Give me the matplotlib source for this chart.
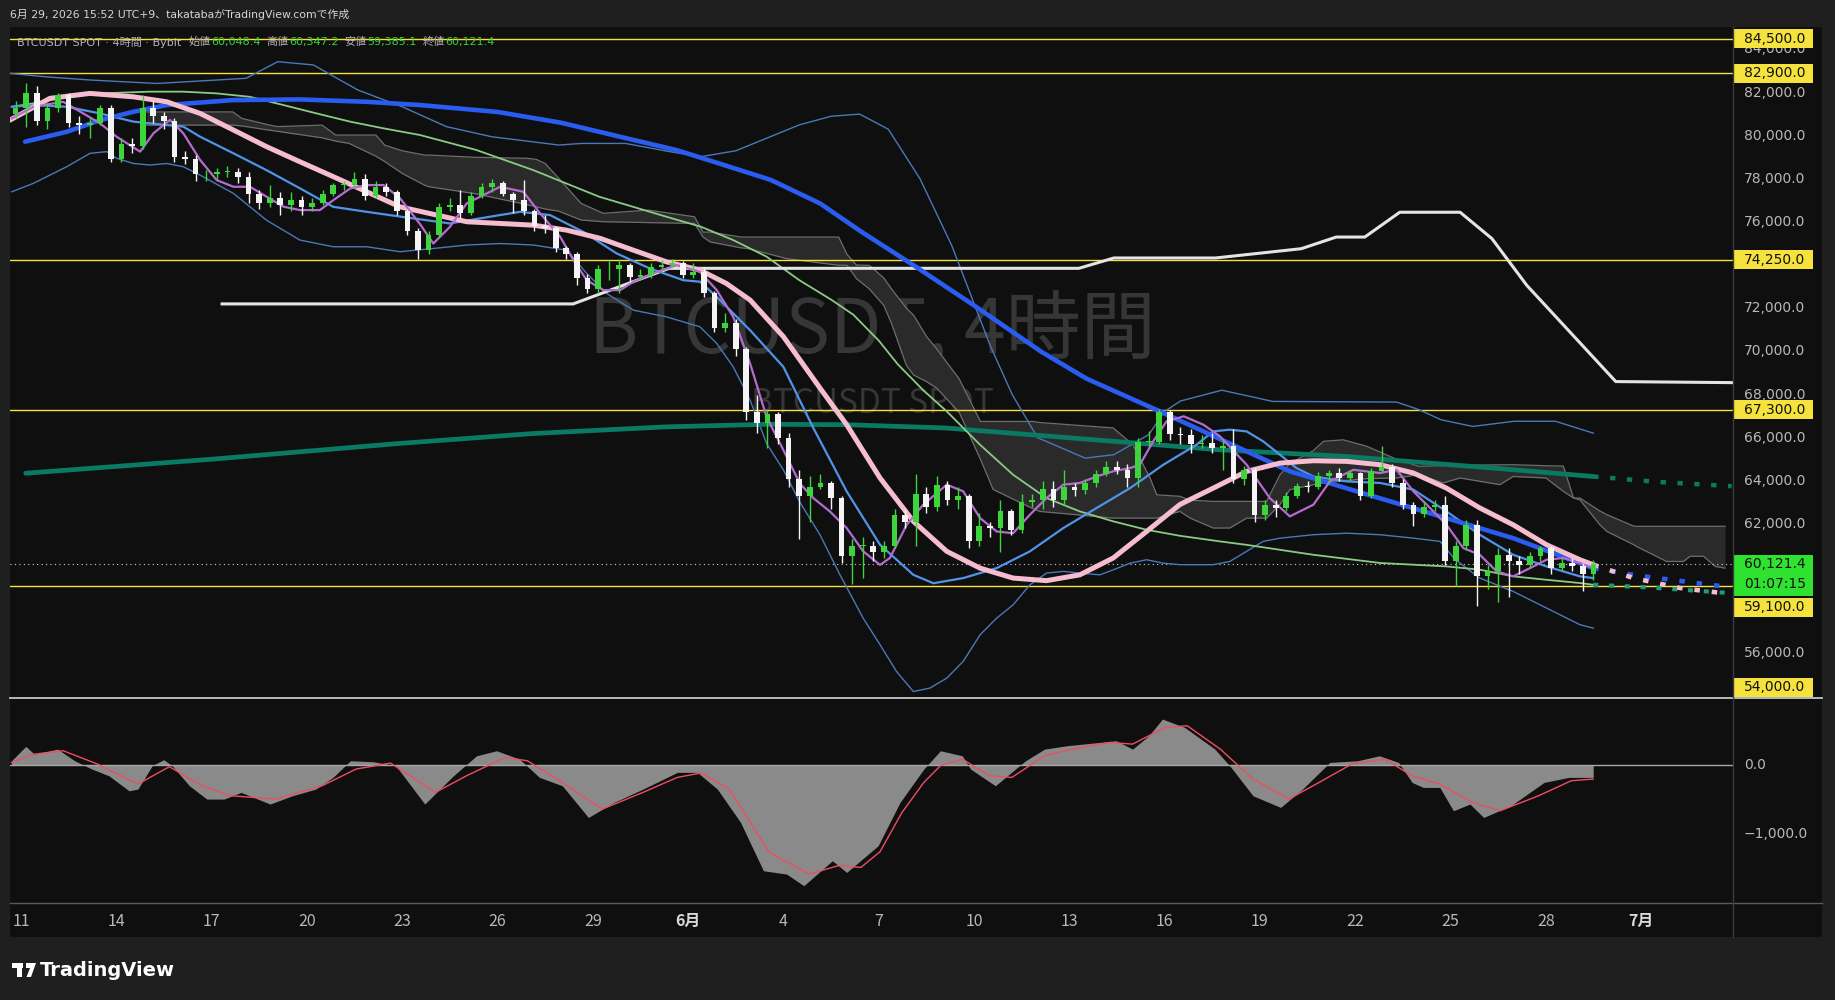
import matplotlib
matplotlib.use("Agg")
import matplotlib.pyplot as plt
import matplotlib.transforms as mtransforms
from matplotlib.patches import Rectangle, Polygon
from matplotlib.lines import Line2D
import numpy as np

plt.rcParams['font.family'] = ['DejaVu Sans', 'Noto Sans CJK JP']
NARROW = ['Liberation Sans Narrow', 'Noto Sans CJK JP']

# x axis is "day of May" (June 1 = 32, July 1 = 62)
# ---------------- candles (8h bars) ----------------
bar_start = 10.83
bar_step = 1 / 3
open_first = 81000
closes = [81300,
          82000, 80700, 81300, 81900, 80600, 80500, 80600, 81300, 78900,
          79600, 79500, 81300, 80900, 80700, 79000, 78900, 78200, 78200,
          78300, 78300, 78100, 77300, 76900, 77100, 76800, 77000, 76700,
          76900, 77300, 77700, 77700, 78000, 77200, 77600, 77400, 76500,
          75600, 74700, 75400, 76700, 76800, 76400, 77200, 77600, 77800,
          77300, 77000, 76500, 75800, 75700, 74800, 74500, 73400, 72900,
          73800, 73800, 74000, 73450, 73550, 73900, 74000, 74100, 73550,
          73700, 72700, 71100, 71300, 70100, 67200, 66700, 67100, 66000,
          64100, 63300, 63700, 63900, 63200, 60500, 61000, 61000, 60700,
          61000, 62400, 62100, 63400, 62800, 63800, 63100, 63300, 61200,
          61900, 61800, 62600, 61700, 63000, 63100, 63600, 63100, 63700,
          63550, 63900, 64300, 64650, 64500, 64150, 65800, 65800, 67200,
          66150, 66100, 65700, 65750, 65500, 65600, 64100, 64500, 62400,
          62900, 62750, 63300, 63750, 63700, 64200, 64350, 64150, 64350,
          63300, 64450, 64650, 63900, 62900, 62450, 62800, 62900, 60300,
          61000, 61950, 59600, 59800, 60550, 60300, 60100, 60500, 60900,
          59950, 60200, 60050, 59700, 60121.4]
highs = [81600,
         82430, 82300, 81500, 82000, 82000, 80900, 80800, 81400, 81400,
         79900, 79900, 81900, 81600, 81100, 80800, 79300, 79100, 78400,
         78500, 78600, 78500, 78300, 77500, 77700, 77400, 77400, 77200,
         77100, 77500, 77800, 77900, 78300, 78200, 77900, 77800, 77500,
         76600, 75700, 75600, 76900, 77100, 77500, 77400, 77800, 78000,
         77900, 77400, 77950, 76600, 76300, 75800, 74900, 74600, 73600,
         74000, 74200, 74300, 74100, 73800, 74100, 74250, 74300, 74200,
         74100, 73900, 72800, 71800, 71500, 70200, 68000, 67300, 67200,
         66200, 64500, 64200, 64300, 64000, 63300, 61300, 61400, 61200,
         61200, 62700, 62700, 64300, 63700, 64200, 64000, 63700, 63400,
         62500, 62100, 63100, 62700, 63400, 63400, 64000, 64000, 64500,
         63900, 64100, 64500, 64900, 64900, 64800, 66000, 66300, 67350,
         67300, 66500, 66400, 66100, 66200, 65900, 66400, 64700, 64600,
         63100, 63100, 63500, 63900, 64000, 64400, 64500, 64600, 64500,
         64400, 64600, 65600, 64800, 64100, 63000, 63000, 63100, 63300,
         61200, 62200, 62200, 60100, 60900, 60900, 60500, 60700, 61000,
         61000, 60400, 60400, 60200, 60347.2]
lows = [80800,
        80400, 80500, 80300, 81100, 80400, 80100, 79900, 80500, 78800,
        78800, 79200, 79400, 80600, 80300, 78800, 78700, 77900, 77900,
        78000, 78100, 77800, 76900, 76600, 76700, 76300, 76500, 76300,
        76500, 76800, 77200, 77500, 77600, 77000, 77100, 77200, 76300,
        75400, 74300, 74500, 75300, 76500, 76200, 76300, 77100, 77400,
        77200, 76400, 76300, 75600, 75500, 74600, 74300, 73100, 72700,
        72700, 73300, 72700, 73200, 73300, 73400, 73800, 73900, 73400,
        73400, 72500, 70900, 70900, 69800, 66800, 66200, 65500, 65700,
        63700, 61300, 62100, 63600, 62700, 60200, 59200, 59500, 60300,
        60400, 60900, 61800, 61000, 62500, 62600, 62900, 62700, 60900,
        61000, 61400, 60700, 61500, 61600, 62800, 62700, 62800, 62900,
        63300, 63400, 63700, 64200, 64300, 63700, 63700, 65600, 65700,
        65900, 65700, 65300, 65500, 65300, 64500, 63900, 63800, 62100,
        62200, 62300, 62600, 63200, 63500, 63600, 63900, 64000, 64000,
        63100, 63200, 64400, 63700, 62700, 61900, 62300, 62600, 60100,
        59100, 60800, 58200, 59000, 58400, 58600, 59700, 60000, 60300,
        59700, 59800, 59800, 58900, 59385.1]

# ---------------- moving averages / bands ----------------
blue_days = [11.13, 12.44, 13.49, 14.54, 15.59, 17.68, 19.78, 21.88, 23.56, 26.0,
             28.0, 30.0, 31.64, 33.0, 34.6, 36.15, 37.5, 39.1, 41.0, 43.13,
             44.55, 46.9, 48.5, 50.94, 54.8, 57.97, 60.49]
blue_vals = [79720, 80180, 80720, 81110, 81420, 81650, 81680, 81570, 81420, 81100,
             80600, 79900, 79330, 78700, 77950, 76860, 75500, 73990, 72130, 69970,
             68730, 67185, 66100, 64440, 62740, 61340, 59950]
blue_ext_days = [60.49, 61.86, 63.38, 64.8]
blue_ext_vals = [59950, 59610, 59330, 59060]

pink_days = [10.65, 11.91, 13.17, 14.54, 15.59, 16.64, 17.69, 18.73, 19.78, 20.83,
             21.88, 22.93, 25.03, 27.13, 28.18, 29.23, 30.28, 31.32, 32.37, 33.2,
             33.95, 35.0, 36.15, 36.99, 38.04, 39.09, 40.14, 41.19, 42.23, 43.28,
             44.33, 45.38, 46.43, 47.48, 48.53, 49.58, 50.63, 51.68, 52.73, 53.78,
             54.83, 55.87, 56.92, 57.97, 59.02, 60.07, 60.49]
pink_vals = [80720, 81730, 81960, 81800, 81570, 81030, 80260, 79490, 78790, 78100,
             77400, 76700, 76010, 75850, 75620, 75240, 74690, 74150, 73770, 73150,
             72380, 70680, 68300, 66600, 64130, 62120, 60730, 59950, 59490, 59370,
             59640, 60420, 61650, 62900, 63660, 64436, 64820, 64930, 64900, 64745,
             64360, 63660, 62740, 61960, 61035, 60340, 60110]
pink_ext_days = [60.49, 61.76, 63.22, 64.75]
pink_ext_vals = [60110, 59490, 59030, 58760]

purple_days = [10.71, 11.39, 12.33, 12.96, 13.49, 14.01, 14.75, 15.17, 15.69, 16.11,
               16.64, 17.16, 17.69, 18.21, 18.73, 19.26, 19.78, 20.41, 20.83, 21.36,
               21.88, 22.41, 22.93, 23.56, 23.98, 24.5, 25.03, 26.08, 26.81, 27.34,
               27.97, 28.39, 28.81, 29.33, 29.86, 30.28, 30.9, 31.64, 32.37, 32.9,
               33.42, 33.95, 34.47, 35.0, 35.52, 35.94, 36.46, 36.99, 37.51, 38.04,
               38.35, 38.88, 39.4, 40.14, 40.66, 41.19, 41.71, 42.23, 42.76, 43.28,
               43.81, 44.33, 44.86, 45.38, 45.91, 46.22, 46.64, 47.06, 47.6, 48.22,
               48.74, 49.58, 50.31, 50.94, 51.68, 52.2, 52.94, 53.78, 54.3, 54.83,
               55.46, 55.87, 56.4, 56.92, 57.45, 57.97, 58.5, 59.02, 59.55, 60.07,
               60.49]
purple_vals = [80800, 81340, 81570, 81030, 80570, 79950, 79260, 80110, 80730, 80110,
               78870, 77940, 77630, 77630, 77170, 76710, 76550, 76550, 77010, 77550,
               77710, 77710, 77100, 75900, 75000, 75770, 76860, 77630, 77400, 76400,
               75320, 74230, 73300, 72840, 72840, 73230, 73610, 74000, 73690, 72840,
               71600, 69440, 66960, 65420, 63870, 63200, 62580, 61810, 60730, 60100,
               60420, 61960, 62890, 63820, 63510, 62270, 61650, 61570, 62430, 63200,
               63820, 63900, 64200, 64440, 64590, 64750, 65830, 66755, 66990, 66600,
               66060, 64745, 63200, 62350, 62890, 63970, 64510, 64360, 64510, 63510,
               62580, 61960, 60880, 60570, 59800, 59570, 59950, 60340, 60420, 60190,
               59950]

mid_days = [10.71, 11.39, 12.44, 13.49, 14.54, 15.59, 16.11, 16.64, 17.69, 18.73,
            19.78, 20.83, 21.88, 22.93, 24.5, 26.08, 26.71, 27.65, 28.7, 29.75,
            30.8, 31.85, 32.37, 32.9, 33.95, 35.0, 35.94, 36.99, 38.04, 39.09,
            39.72, 40.66, 41.71, 42.76, 43.81, 44.86, 45.91, 46.96, 48.0, 48.53,
            49.05, 49.58, 50.1, 50.63, 51.15, 51.68, 52.73, 53.78, 54.83, 55.87,
            56.92, 57.97, 59.02, 60.07, 60.49]
mid_vals = [81340, 81420, 81340, 81030, 80650, 80490, 80420, 79950, 79180, 78400,
            77560, 76700, 76470, 76250, 75930, 76320, 76470, 76320, 75540, 74540,
            73840, 73300, 73230, 72530, 70980, 69280, 66450, 63510, 61035, 59640,
            59250, 59490, 59950, 60730, 61810, 62740, 63660, 64745, 65670, 66290,
            66370, 66290, 65830, 65210, 64590, 64200, 63970, 63900, 63590, 62580,
            61500, 60570, 60030, 59570, 59490]

bbu_days = [10.65, 11.77, 13.18, 15.28, 18.09, 19.08, 20.2, 21.6, 23.0, 24.4,
            25.82, 27.93, 28.63, 30.03, 31.44, 32.39, 33.5, 34.5, 35.5, 36.5,
            37.4, 38.3, 39.3, 40.3, 41.5, 42.2, 43.0, 44.5, 45.4, 46.5,
            47.0, 47.5, 48.8, 50.4, 54.3, 55.0, 55.7, 56.7, 58.0, 59.3, 60.49]
bbu_vals = [82890, 82730, 82580, 82420, 82660, 83430, 83280, 82120, 81340, 80415,
            79950, 79565, 79640, 79640, 79255, 79024, 79300, 79900, 80500, 80900,
            81000, 80300, 78000, 74900, 70300, 68000, 66000, 65050, 65210, 66140,
            67220, 67700, 68200, 67680, 67650, 67300, 66830, 66520, 66760, 66760, 66210]

bbl_days = [10.71, 11.39, 12.44, 13.17, 13.7, 14.01, 14.54, 15.06, 15.59, 16.11,
            16.64, 17.69, 18.73, 19.78, 20.83, 21.88, 22.93, 23.98, 25.03, 26.08,
            27.13, 28.18, 28.81, 29.44, 30.28, 31.32, 32.37, 32.9, 33.42, 33.95,
            34.47, 35.0, 35.52, 36.15, 36.78, 37.51, 38.04, 38.56, 39.09, 39.61,
            40.14, 40.66, 41.19, 41.71, 42.23, 42.76, 43.28, 43.81, 44.33, 44.96,
            45.38, 45.91, 46.43, 46.96, 47.48, 48.53, 49.05, 49.58, 50.1, 50.63,
            51.68, 52.73, 53.78, 54.83, 55.67, 56.1, 56.5, 56.92, 57.97, 59.02,
            60.07, 60.49]
bbl_vals = [77400, 77790, 78560, 79180, 79260, 78950, 78710, 78640, 78710, 78560,
            78170, 77320, 76080, 75160, 74850, 74850, 74620, 74770, 74930, 75000,
            74930, 74690, 73610, 72680, 71910, 71600, 71140, 70370, 69280, 67740,
            65730, 64500, 63000, 61500, 59640, 57630, 56400, 55160, 54230, 54390,
            54850, 55630, 56860, 57630, 58250, 59180, 59720, 59800, 59720, 59640,
            59870, 60180, 60340, 60180, 60110, 60110, 60260, 60730, 61190, 61340,
            61500, 61570, 61500, 61340, 61190, 60420, 59950, 59490, 58870, 58100,
            57330, 57170]

green_days = [10.71, 11.39, 12.44, 13.49, 15.06, 16.11, 17.16, 18.21, 19.26, 20.31,
              21.36, 22.41, 23.56, 25.34, 27.13, 29.2, 31.32, 32.4, 33.42, 34.47,
              35.5, 36.5, 37.2, 38.0, 38.6, 39.4, 40.14, 41.19, 42.23, 43.28,
              44.33, 45.38, 46.43, 47.48, 48.74, 49.58, 51.68, 53.78, 55.87, 56.92,
              57.97, 59.02, 60.07, 60.49]
green_vals = [81340, 81500, 81800, 81960, 82040, 82040, 81960, 81800, 81420, 81030,
              80650, 80340, 80030, 79333, 78400, 77170, 76240, 75780, 75160, 74390,
              73300, 72400, 71700, 70500, 69400, 68200, 67220, 65670, 64280, 63200,
              62580, 62120, 61730, 61450, 61190, 61030, 60570, 60190, 60030, 59880,
              59570, 59410, 59260, 59180]
green_ext_days = [60.49, 62.23, 64.75]
green_ext_vals = [59180, 59060, 58800]

teal_days = [11.15, 17.0, 22.9, 27.1, 31.3, 34.5, 37.0, 40.1, 45.4, 48.7, 52.7, 58.0, 60.49]
teal_vals = [64350, 65000, 65730, 66190, 66500, 66620, 66600, 66450, 65830, 65440, 65130, 64510, 64200]
teal_ext_days = [60.49, 62.5, 64.85]
teal_ext_vals = [64200, 63950, 63750]

white_days = [17.33, 28.38, 31.4, 44.3, 45.4, 48.6, 51.3, 52.4, 53.3, 54.4, 56.3, 57.3, 58.4, 61.2, 64.9]
white_vals = [72200, 72200, 73850, 73850, 74330, 74330, 74760, 75300, 75300, 76450, 76450, 75230, 73060, 68600, 68550]

# ichimoku-like cloud
cloud_days = [14.96, 17.67, 17.95, 18.8, 19.08, 20.48, 20.9, 21.33, 22.17, 22.45,
              23.0, 23.71, 23.85, 25.26, 26.94, 27.22, 27.5, 27.93, 28.63, 29.33,
              30.74, 32.2, 32.47, 32.7, 33.66, 33.9, 35.1, 36.74, 37.0, 37.3,
              37.7, 38.16, 38.4, 38.87, 39.1, 39.5, 39.82, 40.53, 41.2, 41.6,
              42.86, 43.07, 45.38, 46.0, 46.54, 46.75, 47.48, 47.8, 48.53, 49.05,
              49.58, 50.21, 50.63, 50.94, 51.68, 52.0, 52.62, 53.36, 54.3, 55.0,
              55.77, 56.3, 57.55, 57.97, 59.0, 59.55, 59.87, 60.07, 60.7, 60.92,
              61.76, 61.86, 62.8, 63.33, 63.54, 63.96, 64.33, 64.64]
cloud_a = [81100, 81100, 80800, 80500, 80420, 80490, 80030, 80030, 80030, 79560,
           79300, 79100, 79100, 79000, 78950, 78900, 78710, 78020, 76860, 76400,
           76550, 76240, 75530, 75530, 75300, 75300, 75300, 75300, 74500, 74000,
           73990, 73400, 72900, 72000, 71670, 70700, 70120, 68730, 66750, 66750,
           66750, 66700, 66450, 65670, 64130, 63350, 63280, 63100, 63045, 63045,
           63045, 63045, 64280, 64800, 65400, 65830, 65900, 65600, 65000, 64670,
           64700, 64720, 64740, 64745, 64700, 64680, 63200, 63200, 62600, 62430,
           61900, 61890, 61890, 61890, 61890, 61890, 61890, 61890]
cloud_b = [80490, 80490, 80450, 80260, 80200, 79900, 79750, 79640, 79050, 78800,
           78250, 77700, 77630, 77320, 76800, 76700, 76600, 76500, 76090, 76010,
           75970, 75930, 75300, 75070, 74800, 74760, 74300, 73990, 73990, 73370,
           72900, 72130, 71300, 69350, 68900, 68600, 68300, 67180, 65000, 63600,
           62700, 62580, 62270, 62270, 62270, 62270, 62580, 62270, 61810, 61810,
           62270, 62270, 62900, 63590, 63820, 63900, 64000, 64100, 64130, 64280,
           63900, 64130, 63820, 64200, 64130, 63510, 63200, 63120, 61960, 61650,
           61040, 60950, 60260, 60260, 60500, 60500, 60030, 59950]

# horizontal levels drawn on the chart
level_prices = [84500, 82900, 74250, 67300, 59100]
label_levels = [84500, 82900, 74250, 67300, 59100, 54000]
last_price = 60121.4
countdown = "01:07:15"
# price-scale ticks that TradingView shows (others are hidden behind the tags)
scale_ticks = [56000, 62000, 64000, 66000, 68000, 70000, 72000, 76000, 78000, 80000, 82000, 84000]

# ---------------- MACD pane ----------------
macd_days = [10.70, 11.15, 11.42, 12.15, 12.69, 13.23, 13.77, 14.4, 14.68, 15.13,
             15.49, 15.76, 16.3, 16.85, 17.39, 17.93, 18.84, 19.55, 20.28, 20.82,
             21.37, 22.08, 22.8, 23.71, 24.61, 25.34, 25.97, 26.69, 27.32, 28.04,
             28.86, 29.67, 30.58, 31.66, 32.29, 32.92, 33.65, 34.37, 35.1, 35.64,
             36.54, 36.99, 37.98, 38.67, 39.42, 39.94, 40.63, 40.89, 41.67, 42.62,
             43.22, 43.91, 45.47, 45.99, 46.5, 46.93, 47.63, 48.58, 49.09, 49.78,
             50.65, 51.34, 52.2, 53.07, 53.76, 54.36, 54.79, 55.14, 55.66, 56.09,
             56.61, 57.04, 57.9, 58.94, 59.72, 60.49]
macd_vals = [67, 275, 163, 236, 67, -53, -151, -368, -343, -5,
             82, -5, -295, -488, -488, -391, -560, -439, -343, -174,
             67, 53, -5, -560, -151, 139, 212, 91, -174, -295,
             -754, -536, -343, -101, -101, -343, -826, -1526, -1574, -1743,
             -1381, -1550, -1164, -536, -53, 212, 139, -53, -295, 67,
             236, 284, 357, 236, 429, 671, 550, 236, -29, -440,
             -609, -343, 43, 67, 139, 43, -247, -319, -319, -657,
             -560, -754, -584, -247, -174, -174]
sig_days = [10.7, 11.42, 12.33, 13.41, 14.68, 15.67, 16.7, 17.57, 19.03, 20.48,
            21.55, 22.63, 24.05, 25.02, 26.24, 26.94, 28.04, 29.3, 30.58, 31.66,
            32.39, 33.3, 34.55, 35.82, 36.72, 37.44, 38.04, 38.73, 39.42, 39.94,
            40.63, 41.49, 42.19, 43.22, 44.08, 45.29, 45.99, 47.02, 47.71, 48.75,
            49.78, 50.91, 51.86, 52.89, 53.93, 54.79, 55.66, 56.69, 57.56, 58.77,
            59.8, 60.49]
sig_vals = [43, 163, 212, 19, -271, -19, -295, -439, -488, -295,
            -53, 33, -391, -151, 115, 67, -247, -633, -391, -174,
            -111, -343, -1260, -1574, -1453, -1477, -1250, -683, -247, -5,
            91, -151, -174, 139, 236, 332, 308, 550, 574, 236,
            -198, -488, -247, 19, 91, -151, -271, -536, -657, -440,
            -222, -198]

date_ticks = [11, 14, 17, 20, 23, 26, 29, 32, 35, 38, 41, 44, 47, 50, 53, 56, 59, 62]
date_labels = ['11', '14', '17', '20', '23', '26', '29', '6月', '4', '7',
               '10', '13', '16', '19', '22', '25', '28', '7月']

# legend row: (label, value)
ohlc_names = ["始値", "高値", "安値", "終値"]
ohlc_values = ["60,048.4", "60,347.2", "59,385.1", "60,121.4"]

# ---------------- figure ----------------
W, H = 1835, 1000
BG = '#0f0f0f'
YEL = '#f5e23c'
TXT = '#b8b8b8'

fig = plt.figure(figsize=(W / 100, H / 100), dpi=100, facecolor='#1f1f1f')


def fx(px):
    return px / W


def fy(py):
    return 1 - py / H


fig.add_artist(Rectangle((fx(10), fy(937)), fx(1822) - fx(10), fy(27) - fy(937),
                         transform=fig.transFigure, facecolor=BG, edgecolor='none', zorder=0))

ax = fig.add_axes([fx(10), fy(698), fx(1733) - fx(10), fy(27) - fy(698)])
axm = fig.add_axes([fx(10), fy(903), fx(1733) - fx(10), fy(698) - fy(903)], sharex=ax)
for a in (ax, axm):
    a.set_facecolor(BG)
    for s in a.spines.values():
        s.set_visible(False)
    a.tick_params(left=False, bottom=False, labelleft=False, labelbottom=False)
ax.set_xlim(10.654, 64.89)
ax.set_ylim(53930, 85038)
axm.set_ylim(-1993, 976)

# watermark
ax.text(0.5003, 0.546, "BTCUSDT, 4時間", transform=ax.transAxes, ha='center', va='center',
        fontsize=54, color='#363636', zorder=0.5, family=NARROW)
ax.text(0.5003, 0.4396, "BTCUSDT SPOT", transform=ax.transAxes, ha='center', va='center',
        fontsize=24, color='#363636', zorder=0.5, family=NARROW)

# cloud
ax.fill_between(cloud_days, cloud_a, cloud_b, color='#2a2a2a', lw=0, zorder=1)
ax.plot(cloud_days, cloud_a, color='#6e6e6e', lw=0.9, zorder=1.2)
ax.plot(cloud_days, cloud_b, color='#6e6e6e', lw=0.9, zorder=1.2)

# levels
for p in level_prices:
    ax.axhline(p, color=YEL, lw=1.0, zorder=1.5)
ax.axhline(last_price, color='#cfcfcf', lw=0.8, ls=(0, (1, 3)), zorder=1.5)

# bands and MAs
ax.plot(bbu_days, bbu_vals, color='#4a78b8', lw=1.0, zorder=2)
ax.plot(bbl_days, bbl_vals, color='#4a78b8', lw=1.0, zorder=2)
ax.plot(teal_days, teal_vals, color='#0b7a64', lw=3.4, zorder=2, solid_capstyle='round')
ax.plot(teal_ext_days, teal_ext_vals, color='#0b7a64', lw=3.2, ls=(0, (1.2, 2.6)), zorder=2)
ax.plot(green_days, green_vals, color='#8acb84', lw=1.3, zorder=2.5)
ax.plot(green_ext_days, green_ext_vals, color='#1a9c7e', lw=3.0, ls=(0, (1.2, 2.6)), zorder=2.5)
ax.plot(white_days, white_vals, color='#e4e4e4', lw=2.2, zorder=2.5)
ax.plot(mid_days, mid_vals, color='#4f94e8', lw=1.6, zorder=2.6)
ax.plot(blue_days, blue_vals, color='#2a5cf0', lw=3.3, zorder=2.7, solid_capstyle='round')
ax.plot(blue_ext_days, blue_ext_vals, color='#2a5cf0', lw=3.3, ls=(0, (1.2, 2.6)), zorder=2.7)
ax.plot(pink_days, pink_vals, color='#f6bcd0', lw=3.6, zorder=2.8, solid_capstyle='round')
ax.plot(pink_ext_days, pink_ext_vals, color='#f6bcd0', lw=3.3, ls=(0, (1.2, 2.6)), zorder=2.8)
ax.plot(purple_days, purple_vals, color='#b56ccf', lw=1.6, zorder=2.9)

# candles
n = len(closes)
xs = bar_start + np.arange(n) * bar_step
c = np.array(closes)
o = np.array([open_first] + closes[:-1])
up = c >= o
cols = np.where(up, '#3ed43e', '#f4f4f4')
ax.vlines(xs, lows, highs, colors=cols, lw=1.0, zorder=4)
body = np.maximum(np.abs(c - o), 40)
ax.bar(xs, body, bottom=np.minimum(o, c), width=0.18, color=cols, lw=0, zorder=4)

# MACD
axm.fill_between(macd_days, macd_vals, 0, color='#8a8a8a', lw=0, zorder=1)
axm.axhline(0, color='#a8a8a8', lw=1.0, zorder=2)
axm.plot(sig_days, sig_vals, color='#ee4e62', lw=1.0, zorder=3)

# ---------------- right price scale ----------------
blend = mtransforms.blended_transform_factory(ax.transAxes, ax.transData)
tx = (1744 - 10) / 1723
for p in scale_ticks:
    ax.text(tx, p, f"{p:,.1f}", transform=blend, ha='left', va='center',
            fontsize=10, color=TXT, clip_on=False, zorder=5)

hh = 440
label_shift = {59100: -960, 54000: 430}
for p in label_levels:
    yc = p + label_shift.get(p, 0)
    ax.add_patch(Rectangle((1.0006, yc - hh), 0.0458, 2 * hh, transform=blend,
                           facecolor=YEL, edgecolor='none', clip_on=False, zorder=6))
    ax.text(tx, yc, f"{p:,.1f}", transform=blend, ha='left', va='center',
            fontsize=10, color='#111111', clip_on=False, zorder=7)

ax.add_patch(Rectangle((1.0006, last_price - 1480), 0.0458, 1910, transform=blend,
                       facecolor='#2fe22f', edgecolor='none', clip_on=False, zorder=6))
ax.text(tx, last_price, f"{last_price:,.1f}", transform=blend, ha='left', va='center',
        fontsize=10, color='#111111', clip_on=False, zorder=7)
ax.text(tx, last_price - 920, countdown, transform=blend, ha='left', va='center',
        fontsize=10, color='#111111', clip_on=False, zorder=7)

blend_m = mtransforms.blended_transform_factory(axm.transAxes, axm.transData)
axm.text(tx, 0, "0.0", transform=blend_m, ha='left', va='center', fontsize=10, color=TXT, clip_on=False)
axm.text(tx, -1000, "\u22121,000.0", transform=blend_m, ha='left', va='center', fontsize=10,
         color=TXT, clip_on=False)

# date labels
blend_d = mtransforms.blended_transform_factory(axm.transData, fig.transFigure)
for d, lab in zip(date_ticks, date_labels):
    bold = '月' in lab
    axm.text(d, fy(921), lab, transform=blend_d, ha='center', va='center', fontsize=11.5,
             color='#d8d8d8' if bold else TXT, fontweight='bold' if bold else 'normal',
             clip_on=False, family=NARROW)

# frame lines
fig.add_artist(Line2D([fx(10), fx(1822)], [fy(698), fy(698)], transform=fig.transFigure,
                      color='#d6d6d6', lw=1.2))
fig.add_artist(Line2D([fx(10), fx(1822)], [fy(903), fy(903)], transform=fig.transFigure,
                      color='#5a5a5a', lw=1.0))
fig.add_artist(Line2D([fx(1733), fx(1733)], [fy(27), fy(937)], transform=fig.transFigure,
                      color='#3c3c3c', lw=1.0))

# header texts
fig.text(fx(10), fy(14), "6月 29, 2026 15:52 UTC+9、takatabaがTradingView.comで作成",
         color='#d6d6d6', fontsize=7.8, va='center')

# legend row laid out piece by piece
renderer = fig.canvas.get_renderer()
cur = 17.0


def put(s, col, gap):
    global cur
    t = fig.text(fx(cur), fy(42), s, color=col, fontsize=8.0, va='center', zorder=8)
    cur += t.get_window_extent(renderer).width + gap


put("BTCUSDT SPOT · 4時間 · Bybit", '#b4b4b4', 7)
for name, val in zip(ohlc_names, ohlc_values):
    put(name, '#b4b4b4', 0.5)
    put(val, '#35d33a', 6)

# footer logo
fig.add_artist(Rectangle((fx(12), fy(968)), fx(11), 5 / H, transform=fig.transFigure,
                         facecolor='white', edgecolor='none'))
fig.add_artist(Rectangle((fx(17), fy(977)), fx(5), 14 / H, transform=fig.transFigure,
                         facecolor='white', edgecolor='none'))
fig.add_artist(Polygon([(fx(26), fy(963)), (fx(36), fy(963)), (fx(31), fy(977)),
                        (fx(26.5), fy(977)), (fx(30), fy(968)), (fx(26), fy(968))],
                       closed=True, transform=fig.transFigure, facecolor='white', edgecolor='none'))
fig.text(fx(40), fy(970), "TradingView", color='white', fontsize=14, fontweight='bold', va='center')

fig.savefig("out.png", dpi=100, facecolor=fig.get_facecolor())
